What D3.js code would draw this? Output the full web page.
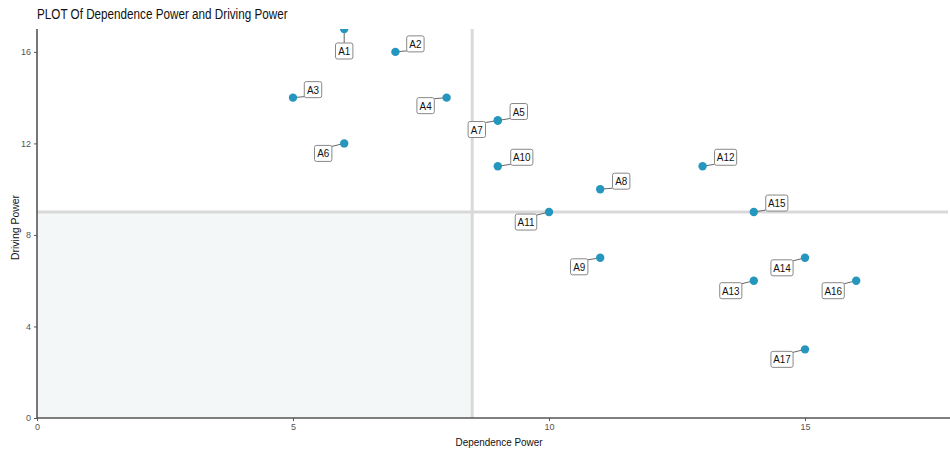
<!DOCTYPE html>
<html>
<head>
<meta charset="utf-8">
<script src="https://cdn.jsdelivr.net/npm/d3@7"></script>
<style>
  body { margin: 0; background: #fff; }
  svg text { font-family: "Liberation Sans", Arial, sans-serif; }
</style>
</head>
<body>
<svg id="chart" width="950" height="454"></svg>
<script>
// ---- data ----
const labels = ["A1","A2","A3","A4","A5","A6","A7","A8","A9","A10","A11","A12","A13","A14","A15","A16","A17"];
const dependence = [6, 7, 5, 8, 9, 6, 9, 11, 11, 9, 10, 13, 14, 15, 14, 16, 15];
const driving    = [17, 16, 14, 14, 13, 12, 13, 10, 7, 11, 9, 11, 6, 7, 9, 6, 3];
const xTicks = [0, 5, 10, 15];
const yTicks = [0, 4, 8, 12, 16];
const xCut = 8.5, yCut = 9;
// label nudges in pixels (layout, like ggrepel)
const nudgeX = [0, 20, 20, -21, 21, -21, -21, 21, -21, 24, -23, 23, -23, -23, 23, -23, -23];
const nudgeY = [22, -8, -8, 8, -9, 10, 9, -8, 9, -9, 10, -9, 10, 10, -9, 10, 10];

const svg = d3.select("#chart");
const m = { left: 37, right: 2, top: 29, bottom: 36 };
const W = 950, H = 454;
const x = d3.scaleLinear().domain([0, (W - m.right - m.left) / 51.2]).range([m.left, W - m.right]);
const y = d3.scaleLinear().domain([0, 17]).range([H - m.bottom, m.top]);

function squeeze(sel, f) {
  const n = sel.node();
  const w = n.getComputedTextLength();
  sel.attr("textLength", w * f).attr("lengthAdjust", "spacingAndGlyphs");
  return sel;
}

svg.append("defs").append("clipPath").attr("id", "clip")
  .append("rect").attr("x", m.left).attr("y", m.top).attr("width", W - m.right - m.left).attr("height", H - m.bottom - m.top);

const panel = svg.append("g").attr("clip-path", "url(#clip)");

panel.append("rect")
  .attr("x", x(0)).attr("y", y(yCut))
  .attr("width", x(xCut) - x(0)).attr("height", y(0) - y(yCut))
  .attr("fill", "#f4f7f7");

panel.append("line").attr("x1", x(0)).attr("x2", W).attr("y1", y(yCut)).attr("y2", y(yCut))
  .attr("stroke", "#d9d9d9").attr("stroke-width", 3);
panel.append("line").attr("x1", x(xCut)).attr("x2", x(xCut)).attr("y1", m.top).attr("y2", y(0))
  .attr("stroke", "#d9d9d9").attr("stroke-width", 3);

const xAxis = d3.axisBottom(x).tickValues(xTicks).tickSize(3).tickPadding(3);
const yAxis = d3.axisLeft(y).tickValues(yTicks).tickSize(3).tickPadding(3);
const gx = svg.append("g").attr("transform", `translate(0,${y(0)})`).call(xAxis);
const gy = svg.append("g").attr("transform", `translate(${m.left},0)`).call(yAxis);
[gx, gy].forEach(g => {
  g.select(".domain").attr("stroke", "#555").attr("stroke-width", 1.6);
  g.selectAll(".tick line").attr("stroke", "#555");
  g.selectAll(".tick text").attr("fill", "#555").attr("font-size", 9);
});
gx.select(".domain").attr("d", `M${m.left},0H${W}`);
gy.select(".domain").attr("d", `M0,${m.top}V${y(0)}`);

const data = labels.map((l, i) => ({ l, xv: dependence[i], yv: driving[i], dx: nudgeX[i], dy: nudgeY[i] }));
const lg = svg.append("g");
data.forEach(d => {
  const px = x(d.xv), py = y(d.yv);
  const cx = px + d.dx, cy = py + d.dy;
  const t = lg.append("text").attr("x", cx).attr("y", cy + 4).attr("text-anchor", "middle")
    .attr("font-size", 11.5).attr("fill", "#111").text(d.l);
  squeeze(t, 0.86);
  const tw = t.node().getComputedTextLength() * 0.86;
  const bw = tw + 7, bh = 16;
  let ex, ey;
  if (d.dx === 0) { ex = cx; ey = cy - Math.sign(d.dy) * bh / 2; }
  else { ex = cx - Math.sign(d.dx) * bw / 2; ey = cy - Math.sign(d.dy) * (bh / 2 - 1); }
  lg.insert("line", "text").attr("x1", px).attr("y1", py).attr("x2", ex).attr("y2", ey)
    .attr("stroke", "#666").attr("stroke-width", 1);
  lg.insert("rect", "text").attr("x", cx - bw / 2).attr("y", cy - bh / 2).attr("width", bw).attr("height", bh)
    .attr("rx", 2).attr("fill", "#fff").attr("stroke", "#888").attr("stroke-width", 1);
});

svg.append("g").attr("clip-path", "url(#clip)").selectAll("circle").data(data).enter().append("circle")
  .attr("cx", d => x(d.xv)).attr("cy", d => y(d.yv)).attr("r", 4.2).attr("fill", "#2596be");

const title = svg.append("text").attr("x", 37).attr("y", 19).attr("font-size", 14).attr("fill", "#111")
  .text("PLOT Of Dependence Power and Driving Power");
squeeze(title, 0.835);
const xl = svg.append("text").attr("x", 499).attr("y", 446).attr("text-anchor", "middle")
  .attr("font-size", 11).attr("fill", "#111").text("Dependence Power");
squeeze(xl, 0.9);
const yl = svg.append("text").attr("transform", `translate(19,${(m.top + y(0)) / 2 + 4}) rotate(-90)`)
  .attr("text-anchor", "middle").attr("font-size", 11).attr("fill", "#111").text("Driving Power");
squeeze(yl, 0.95);
</script>
</body>
</html>
